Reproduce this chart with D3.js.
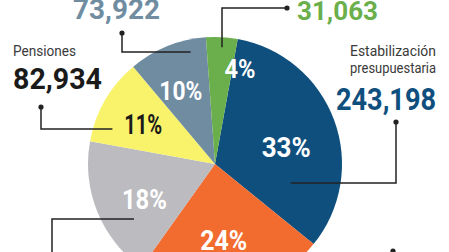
<!DOCTYPE html>
<html><head><meta charset="utf-8">
<script src="https://cdn.jsdelivr.net/npm/d3@7"></script>
<style>html,body{margin:0;padding:0;background:#fff;}svg{display:block;}</style>
</head><body>
<script>
// ---- data ----
const categories = ["Estabilización presupuestaria", "Fondo B", "Fondo C", "Pensiones", "Fondo E", "Fondo F"];
const percents   = [33, 24, 18, 11, 10, 4];
const amounts    = [243198, null, null, 82934, 73922, 31063];
const percentLabels = ["33%", "24%", "18%", "11%", "10%", "4%"];

// ---- styles / layout ----
const W = 449, H = 252;
const colors = ["#0f4f7e", "#f26b2f", "#bcbcc0", "#f8f36b", "#6f8ca1", "#6aaf4b"];
const pctColors = ["#fff", "#fff", "#fff", "#1a1a1a", "#fff", "#fff"];
const cx = 215, cy = 164, R = 127;
const startDeg = 10.3;

const svg = d3.select("body").append("svg").attr("width", W).attr("height", H);
const g = svg.append("g").attr("transform", `translate(${cx},${cy})`);

const pie = d3.pie().sort(null).value(d => d.p)
  .startAngle(startDeg * Math.PI / 180)
  .endAngle(startDeg * Math.PI / 180 + 2 * Math.PI);
const data = categories.map((c, i) => ({c, p: percents[i], a: amounts[i], lab: percentLabels[i], i}));
const arcs = pie(data);
const arc = d3.arc().innerRadius(0).outerRadius(R);

g.selectAll("path.slice").data(arcs).join("path")
  .attr("class", "slice")
  .attr("d", arc)
  .attr("fill", d => colors[d.data.i]);

// percent labels
const labelR = [73, 77, 79, 82, 81, 99];
const labelShift = [0.13, 0.02, -0.08, -0.02, -0.05, 0.2];
const pctSize = [27, 27, 27, 27, 26, 26];
const pctLen = [49, 47, 45, 38, 43, 31];
g.selectAll("text.pct").data(arcs).join("text")
  .attr("class", "pct")
  .attr("transform", d => {
    const i = d.data.i;
    const mid = (d.startAngle + d.endAngle) / 2 + labelShift[i];
    const [x, y] = d3.pointRadial(mid, labelR[i]);
    return `translate(${x},${y})`;
  })
  .attr("text-anchor", "middle")
  .attr("dy", "0.36em")
  .attr("font-family", "Roboto, sans-serif")
  .attr("font-weight", 700)
  .attr("font-size", d => pctSize[d.data.i])
  .attr("textLength", d => pctLen[d.data.i])
  .attr("lengthAdjust", "spacingAndGlyphs")
  .attr("fill", d => pctColors[d.data.i])
  .text(d => d.data.lab);

// callouts: inner anchor by slice (fraction within slice, radius), then elbow & outer points (page coords)
const callouts = [
  {i: 4, t: 0.78, r: 117, pts: [[122, 52], [122, 33]], dot: true},
  {i: 5, t: 0.48, r: 117, pts: [[222, 8], [287, 8]], dot: true},
  {i: 3, t: 0.2, r: 108, pts: [[41, 129], [41, 107]], dot: true},
  {i: 0, t: 0.79, r: 78, pts: [[396, 183], [396, 122]], dot: true},
  {i: 2, t: 0.3, r: 99, pts: [[52, 219], [52, 260]], dot: false},
];
const line = d3.line();
callouts.forEach(co => {
  const d = arcs[co.i];
  const ang = d.startAngle + co.t * (d.endAngle - d.startAngle);
  const [px, py] = d3.pointRadial(ang, co.r);
  const p0 = [cx + px, cy + py];
  // make first segment axis-aligned with elbow
  const e = co.pts[0];
  let start;
  if (Math.abs(e[0] - p0[0]) < Math.abs(e[1] - p0[1]) && co.i === 5) start = [e[0], p0[1]];
  else start = [p0[0], e[1]];
  svg.append("path").attr("d", line([start, ...co.pts]))
    .attr("fill", "none").attr("stroke", "#222").attr("stroke-width", 1.5);
  if (co.dot) {
    const last = co.pts[co.pts.length - 1];
    svg.append("circle").attr("cx", last[0]).attr("cy", last[1]).attr("r", 2.6).attr("fill", "#222");
  }
});
// orange callout dot (leader goes off the bottom)
svg.append("circle").attr("cx", 393).attr("cy", 251).attr("r", 2.6).attr("fill", "#222");
svg.append("line").attr("x1", 393).attr("x2", 393).attr("y1", 251).attr("y2", 260).attr("stroke", "#222").attr("stroke-width", 1.5);

const fmt = d3.format(",");
// amount labels
const amountText = [
  {i: 4, x: 116.5, y: 19, anchor: "middle", size: 28, len: 87, color: "#6f8ca1"},
  {i: 5, x: 297, y: 20, anchor: "start", size: 25, len: 81, color: "#6aaf4b"},
  {i: 3, x: 13, y: 89, anchor: "start", size: 30, len: 89, color: "#1a1a1a"},
  {i: 0, x: 436, y: 110, anchor: "end", size: 31, len: 100, color: "#0f4f7e"},
];
amountText.forEach(a => {
  svg.append("text").attr("x", a.x).attr("y", a.y)
    .attr("text-anchor", a.anchor)
    .attr("font-family", "Roboto, sans-serif").attr("font-weight", 700)
    .attr("font-size", a.size)
    .attr("textLength", a.len).attr("lengthAdjust", "spacingAndGlyphs")
    .attr("fill", a.color)
    .text(fmt(amounts[a.i]));
});

// category names
svg.append("text").attr("x", 13).attr("y", 56)
  .attr("font-family", "Roboto, sans-serif").attr("font-size", 15)
  .attr("textLength", 63).attr("lengthAdjust", "spacingAndGlyphs")
  .attr("fill", "#3a3a3a").text(categories[3]);
const estLines = categories[0].split(" ");
const estLens = [86, 86];
estLines.forEach((t, k) => {
  svg.append("text").attr("x", 436).attr("y", 56 + k * 17)
    .attr("text-anchor", "end")
    .attr("font-family", "Roboto, sans-serif").attr("font-size", 15)
    .attr("textLength", estLens[k]).attr("lengthAdjust", "spacingAndGlyphs")
    .attr("fill", "#3a3a3a").text(t);
});
</script>
</body></html>
